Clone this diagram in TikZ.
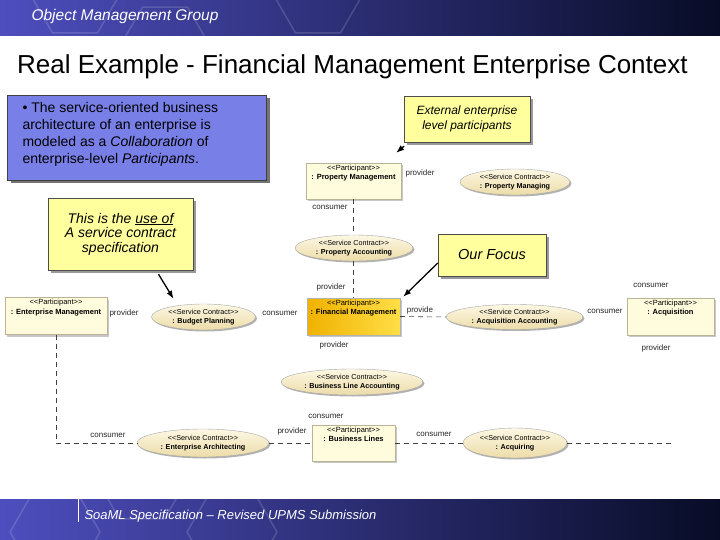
\documentclass[tikz,border=0pt]{standalone}
\usepackage{fontspec}
\setmainfont{Liberation Sans}
\usepackage{xcolor}
\usepackage{tikz}
\usetikzlibrary{arrows.meta, positioning, shapes.geometric, shadows}
\definecolor{omgBlue}{RGB}{78,78,190}
\definecolor{omgMid}{RGB}{40,48,132}
\definecolor{omgNavy}{RGB}{8,12,38}
\definecolor{introBlue}{RGB}{120,128,232}
\definecolor{noteYellow}{RGB}{255,255,158}
\definecolor{partCream}{RGB}{255,252,222}
\definecolor{partEdge}{RGB}{185,180,150}
\definecolor{fmGoldDark}{RGB}{240,178,0}
\definecolor{fmGoldLight}{RGB}{255,222,70}
\definecolor{scLight}{RGB}{253,248,228}
\definecolor{scTan}{RGB}{236,220,168}

\newcommand\stereo[1]{<\kern0pt<#1>\kern0pt>}

\tikzset{
  band/.style={left color=omgBlue, middle color=omgMid, right color=omgNavy},
  introbox/.style={draw=black!75, fill=introBlue,
    drop shadow={shadow xshift=3pt, shadow yshift=-3pt, fill=black!55, opacity=1}},
  note/.style={draw=black!70, fill=noteYellow, align=center,
    drop shadow={shadow xshift=3pt, shadow yshift=-3pt, fill=black!40, opacity=1}},
  part/.style={draw=partEdge, fill=partCream, inner sep=0pt,
    drop shadow={shadow xshift=2pt, shadow yshift=-2pt, fill=black!22, opacity=1}},
  parttxt/.style={anchor=north, align=center, inner sep=2pt,
    font=\fontsize{7.5}{9.5}\selectfont},
  contract/.style={ellipse, draw=black!35, top color=scLight, bottom color=scTan,
    inner sep=0pt, align=center, font=\fontsize{7.2}{9}\selectfont,
    drop shadow={shadow xshift=1.5pt, shadow yshift=-1.5pt, fill=black!30, opacity=1}},
  endlbl/.style={font=\fontsize{8}{9}\selectfont, text=black!85, inner sep=0pt},
  conn/.style={draw=black!75, line width=0.6pt, dash pattern=on 5pt off 4pt},
  callout/.style={-{Latex[length=8pt,width=6pt]}, line width=1.3pt},
}

\begin{document}
\begin{tikzpicture}[x=1pt, y=-1pt]
  \useasboundingbox (0,0) rectangle (720,540);

  % header and footer bands
  \fill[band] (0,0) rectangle (720,36);
  \fill[band] (0,499) rectangle (720,540);
  \begin{scope}
    \clip (0,0) rectangle (720,36) (0,499) rectangle (720,540);
    \foreach \cx/\cy in {75/-6, 165/46, 318/-6, 55/532, 142/480, 232/532}
      \draw[white, draw opacity=.15, line width=1.5pt]
        (\cx,\cy) +(0:45) -- +(60:45) -- +(120:45) -- +(180:45) -- +(240:45) -- +(300:45) -- cycle;
  \end{scope}
  \node[anchor=west, text=white, font=\fontsize{15.5}{18}\selectfont\itshape] (omg) at (28,16) {Object Management Group};
  \draw[white, line width=.6pt] (78,499) -- (78,522);
  \node[anchor=west, text=white, font=\fontsize{13}{15}\selectfont\itshape] (foot) at (81,516) {SoaML Specification – Revised UPMS Submission};

  % title
  \node[anchor=west, inner sep=0pt, font=\fontsize{26}{31}\selectfont] (title) at (17,67) {Real Example - Financial Management Enterprise Context};

  % blue intro box
  \node[introbox, minimum width=259pt, minimum height=85pt] (intro) at (137,137.5) {};
  \node[align=left, inner sep=0pt, font=\fontsize{14}{17}\selectfont, below right=7pt and 15pt of intro.north west] (introtxt)
    {\textbullet\ The service-oriented business\\architecture of an enterprise is\\modeled as a \textit{Collaboration} of\\enterprise-level \textit{Participants}.};

  % participants
  \foreach \n/\x/\y/\w/\h/\t in {pm/353.5/181/95/36/Property Management, em/56/316/102/37/Enterprise Management,
      acq/670.5/316.5/87/37/Acquisition, bl/353.5/443/83/36/Business Lines}
    \node[part, minimum width=\w pt, minimum height=\h pt,
      label={[parttxt]north:{\stereo{Participant}\\\textbf{: \t}}}] (\n) at (\x,\y) {};
  \node[part, left color=fmGoldDark, right color=fmGoldLight, draw=black!30, minimum width=93pt, minimum height=37pt,
    label={[parttxt]north:{\stereo{Participant}\\\textbf{: Financial Management}}}] (fm) at (353.5,316.5) {};

  % service contracts
  \foreach \n/\x/\y/\w/\h/\t in {pmg/515/182/110/26/Property Managing, pa/354/248/118/26/Property Accounting,
      bp/203.5/317/104/26/Budget Planning, aa/514.5/317/137/25/Acquisition Accounting,
      bla/352/382/142/26/Business Line Accounting, ea/203/443/132/28/Enterprise Architecting,
      acqg/515/443/104/30/Acquiring}
    \node[contract, minimum width=\w pt, minimum height=\h pt] (\n) at (\x,\y) {\stereo{Service Contract}\\\textbf{: \t}};

  % connectors
  \coordinate (acqend) at (673,443);
  \draw[conn] (pm.south) -- (pm.south |- pa.north);
  \draw[conn] (pa.south -| fm.north) -- (fm.north);
  \draw[conn] (fm.east) -- (aa.west);
  \draw[conn] (em.south) |- (ea.west);
  \draw[conn] (ea.east) -- (bl.west);
  \draw[conn] (bl.east) -- (acqg.west);
  \draw[conn] (acqg.east) -- (acqend);

  % role labels
  \foreach \t/\x/\y [count=\i] in {provider/420/173, consumer/330/207, provider/331/287, provider/124/313,
      consumer/280/313, provide/420/310, consumer/605/311, consumer/651/285, provider/656/348,
      provider/334/345, consumer/326/416, provider/292/431, consumer/434/434, consumer/108/435}
    \node[endlbl] (role\i) at (\x,\y) {\t};

  % callout notes
  \node[note, minimum width=145pt, minimum height=72pt, font=\fontsize{14}{14.5}\selectfont\itshape] (usenote) at (120.5,234)
    {This is the \underline{use of}\\A service contract\\specification};
  \node[note, minimum width=126pt, minimum height=46pt, font=\fontsize{12}{15}\selectfont\itshape] (extnote) at (467,119)
    {External enterprise\\level participants};
  \node[note, minimum width=108pt, minimum height=42pt, font=\fontsize{14.5}{17}\selectfont\itshape] (focus) at (492,255)
    {Our Focus};
  \draw[callout] ([xshift=38pt,yshift=-4pt]usenote.south) -- ([xshift=-30pt,yshift=5pt]bp.north);
  \draw[callout] ([xshift=-63pt,yshift=-4pt]extnote.south) -- ([xshift=-5pt,yshift=10pt]pm.north east);
  \draw[callout] ([yshift=-8pt]focus.west) -- ([xshift=3pt,yshift=1pt]fm.north east);
\end{tikzpicture}
\end{document}
